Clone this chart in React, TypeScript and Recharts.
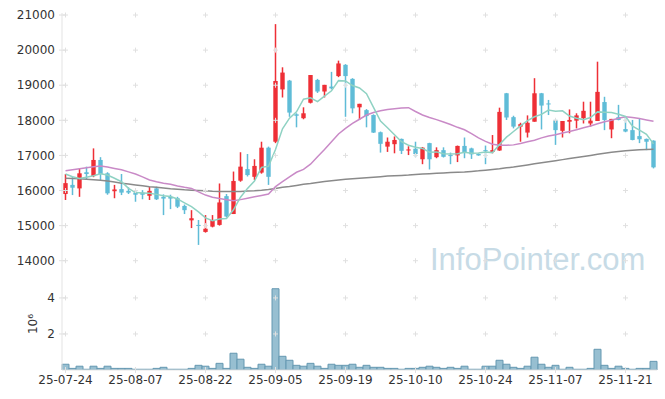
import { ComposedChart, Bar, Line, XAxis, YAxis, ReferenceDot } from 'recharts'

const dates = [
  '25-07-24', '25-07-25', '25-07-28', '25-07-29', '25-07-30', '25-07-31',
  '25-08-01', '25-08-04', '25-08-05', '25-08-06', '25-08-07', '25-08-08', '25-08-11', '25-08-12',
  '25-08-13', '25-08-14', '25-08-18', '25-08-19', '25-08-20', '25-08-21', '25-08-22', '25-08-25',
  '25-08-26', '25-08-27', '25-08-28', '25-08-29',
  '25-09-01', '25-09-02', '25-09-03', '25-09-04', '25-09-05', '25-09-08', '25-09-09', '25-09-10',
  '25-09-11', '25-09-12', '25-09-15', '25-09-16', '25-09-17', '25-09-18', '25-09-19', '25-09-22',
  '25-09-23', '25-09-24', '25-09-25', '25-09-26', '25-09-29', '25-09-30',
  '25-10-01', '25-10-02', '25-10-10', '25-10-13', '25-10-14', '25-10-15', '25-10-16', '25-10-17',
  '25-10-20', '25-10-21', '25-10-22', '25-10-23', '25-10-24', '25-10-27', '25-10-28', '25-10-29',
  '25-10-30', '25-10-31',
  '25-11-03', '25-11-04', '25-11-05', '25-11-06', '25-11-07', '25-11-10', '25-11-11', '25-11-12',
  '25-11-13', '25-11-14', '25-11-17', '25-11-18', '25-11-19', '25-11-20', '25-11-21', '25-11-24',
  '25-11-25', '25-11-26', '25-11-27',
]

const opens = [
  15900, 16160, 16060, 16520, 16410, 16870, 16490, 15980, 16040, 15990,
  15940, 15940, 15850, 16060, 15820, 15820, 15780, 15560, 15150, 15020,
  14820, 14970, 15020, 15840, 15330, 16280, 16610, 16390, 16510, 17220,
  17390, 18880, 19130, 18170, 18060, 18500, 19150, 18820, 18960, 19260,
  19580, 19180, 18370, 18290, 18150, 17660, 17250, 17320, 17470, 17140,
  17190, 16890, 17350, 16950, 17150, 17010, 17000, 17270, 17200, 17040,
  17150, 17100, 17140, 18770, 18090, 17820, 17650, 17960, 18770, 18480,
  18010, 17700, 17960, 17990, 18060, 17910, 17980, 18520, 17740, 18090,
  17750, 17720, 17550, 17470, 17420,
]
const highs = [
  16470, 16390, 16630, 16680, 17200, 16950, 16520, 16160, 16470, 16090,
  16010, 16010, 16100, 16110, 15890, 15880, 15820, 15600, 15440, 15160,
  15300, 15300, 16200, 15900, 16540, 17090, 17040, 16890, 17390, 17250,
  20740, 19510, 19150, 18200, 18370, 19290, 19180, 19010, 19380, 19700,
  19600, 19200, 18470, 18320, 18170, 17680, 17510, 17540, 17480, 17260,
  17390, 17240, 17360, 17230, 17230, 17080, 17280, 17510, 17220, 17060,
  17280, 17580, 18360, 18780, 18130, 17930, 18140, 19200, 18780, 18580,
  18020, 17980, 18310, 18200, 18530, 18530, 19670, 18670, 18040, 18440,
  18100, 18010, 18060, 17480, 17430,
]
const lows = [
  15730, 15870, 15820, 16300, 16380, 16300, 15880, 15780, 15870, 15900,
  15680, 15750, 15730, 15730, 15300, 15470, 15500, 15330, 14930, 14450,
  14800, 14950, 15000, 15230, 15330, 16250, 16400, 16300, 16480, 16160,
  17350, 18650, 18100, 17800, 18030, 18480, 18780, 18650, 18880, 19230,
  18100, 18200, 18010, 17800, 17640, 17080, 17100, 17060, 17040, 17010,
  16950, 16750, 16600, 16920, 16940, 16750, 16810, 16920, 16900, 16990,
  16750, 17060, 17130, 18010, 17770, 17390, 17510, 17960, 17740, 18150,
  17300, 17510, 17630, 17770, 17910, 17820, 17980, 17720, 17490, 18000,
  17660, 17430, 17350, 17150, 16630,
]
const closes = [
  16210, 16080, 16490, 16470, 16870, 16470, 15920, 16030, 15940, 15940,
  15880, 15880, 15990, 15750, 15770, 15770, 15540, 15440, 15210, 14990,
  14910, 15160, 15660, 15260, 16270, 16680, 16440, 16700, 17220, 16390,
  19120, 19360, 18220, 18130, 18200, 19290, 18820, 19010, 18910, 19620,
  19260, 18340, 18470, 18120, 17650, 17330, 17390, 17440, 17130, 17170,
  17040, 17220, 16890, 17150, 16960, 16980, 17270, 17080, 17030, 17000,
  17120, 17150, 18240, 18080, 17820, 17890, 17930, 18770, 18420, 18460,
  17720, 17980, 18010, 18140, 18270, 17990, 18810, 18010, 18040, 18010,
  17680, 17440, 17460, 17390, 16660,
]
const volumes = [
  320000, 90000, 210000, 40000, 210000, 90000, 210000, 90000, 90000, 90000,
  40000, 40000, 40000, 90000, 150000, 40000, 40000, 40000, 90000, 260000,
  210000, 90000, 370000, 90000, 930000, 600000, 150000, 90000, 320000, 210000,
  4510000, 760000, 540000, 260000, 210000, 370000, 210000, 90000, 320000, 260000,
  260000, 320000, 150000, 260000, 150000, 150000, 90000, 90000, 40000, 90000,
  90000, 150000, 210000, 150000, 90000, 150000, 90000, 210000, 40000, 40000,
  210000, 210000, 540000, 320000, 150000, 90000, 210000, 710000, 320000, 150000,
  260000, 40000, 150000, 40000, 40000, 90000, 1150000, 260000, 90000, 210000,
  90000, 40000, 90000, 90000, 480000,
]
const ma5 = [
  16470, 16390, 16340, 16380, 16420, 16480, 16440, 16350, 16250, 16060,
  15940, 15930, 15920, 15890, 15850, 15830, 15760, 15650, 15540, 15390,
  15220, 15140, 15190, 15200, 15450, 15810, 16060, 16270, 16660, 16690,
  17170, 17760, 18060, 18240, 18600, 18640, 18530, 18690, 18840, 19130,
  19120, 18990, 18920, 18760, 18370, 17980, 17790, 17590, 17390, 17290,
  17230, 17200, 17090, 17100, 17050, 17040, 17050, 17090, 17060, 17070,
  17100, 17080, 17310, 17520, 17680, 17840, 17990, 18100, 18170, 18290,
  18260, 18270, 18120, 18060, 18020, 18080, 18240, 18230, 18220, 18170,
  18110, 17830, 17720, 17600, 17330,
]
const ma20 = [
  16560, 16590, 16620, 16650, 16680, 16700, 16670, 16630, 16590, 16530,
  16470, 16390, 16300, 16250, 16210, 16180, 16130, 16090, 16060, 15960,
  15870, 15810, 15770, 15740, 15710, 15740, 15780, 15820, 15860, 15900,
  16110, 16250, 16390, 16520, 16600, 16750, 16960, 17170, 17390, 17610,
  17770, 17910, 18030, 18150, 18220, 18270, 18310, 18330, 18350, 18360,
  18250, 18150, 18080, 18020, 17950, 17880, 17800, 17730, 17620, 17500,
  17400, 17320, 17290, 17290, 17300, 17340, 17390, 17430, 17500, 17550,
  17590, 17640, 17680, 17730, 17790, 17840, 17900, 17960, 18000, 18060,
  18100, 18080, 18050, 18010, 17970,
]
const ma60 = [
  16350, 16345, 16335, 16320, 16305, 16290, 16270, 16240, 16210, 16185,
  16160, 16135, 16110, 16090, 16070, 16050, 16035, 16020, 16010, 16000,
  15990, 15980, 15975, 15970, 15970, 15975, 15985, 15995, 16010, 16030,
  16060, 16090, 16115, 16145, 16175, 16200, 16230, 16255, 16280, 16300,
  16320, 16335, 16350, 16365, 16380, 16395, 16410, 16420, 16430, 16440,
  16455, 16470, 16480, 16490, 16500, 16510, 16520, 16530, 16545, 16560,
  16580, 16600, 16620, 16645, 16670, 16700, 16730, 16760, 16790, 16820,
  16850, 16880, 16910, 16940, 16970, 17000, 17030, 17060, 17090, 17110,
  17130, 17145, 17160, 17170, 17175,
]

const xTicks = ['25-07-24', '25-08-07', '25-08-22', '25-09-05', '25-09-19', '25-10-10', '25-10-24', '25-11-07', '25-11-21']
const priceTicks = [14000, 15000, 16000, 17000, 18000, 19000, 20000, 21000]
const volTicks = [2000000, 4000000]

const RED = '#ee2f36'
const BLUE = '#5fbcd7'
const FRAME = '#e3e3e3'
const GRIDC = '#e0e0e0'
const TEXT = '#333'
const FONT = 'DejaVu Sans'

const data = dates.map((d, i) => ({
  date: d,
  open: opens[i],
  high: highs[i],
  low: lows[i],
  close: closes[i],
  range: [lows[i], highs[i]],
  volume: volumes[i],
  ma5: ma5[i],
  ma20: ma20[i],
  ma60: ma60[i],
}))

// wick + body, scaled from the low/high range bar recharts hands us
const Candle = (props: any) => {
  const { x, y, width, height, payload } = props
  if (!payload) return null
  const top = Math.min(y, y + height)
  const bot = Math.max(y, y + height)
  const k = (bot - top) / (payload.high - payload.low || 1)
  const yo = top + (payload.high - payload.open) * k
  const yc = top + (payload.high - payload.close) * k
  const color = payload.close >= payload.open ? RED : BLUE
  const cx = x + width / 2
  const bw = 4.4
  return (
    <g>
      <rect x={cx - 0.75} y={top} width={1.5} height={bot - top} fill={color} stroke="none" />
      <rect x={cx - bw / 2} y={Math.min(yo, yc)} width={bw} height={Math.max(Math.abs(yo - yc), 1)} fill={color} stroke="none" />
    </g>
  )
}

const GridCross = (p: any) => (
  <g>
    <line x1={p.cx - 2.5} x2={p.cx + 2.5} y1={p.cy} y2={p.cy} stroke={GRIDC} />
    <line x1={p.cx} x2={p.cx} y1={p.cy - 2.5} y2={p.cy + 2.5} stroke={GRIDC} />
  </g>
)
const HTick = (p: any) => <line x1={p.x - 3} x2={p.x + 3} y1={p.y} y2={p.y} stroke={GRIDC} />
const VTick = (p: any) => <line x1={p.x} x2={p.x} y1={p.y - 3} y2={p.y + 3} stroke={GRIDC} />

const labelTick = (fmt: (v: number) => string) => (p: any) => (
  <g>
    <line x1={p.x - 3} x2={p.x + 3} y1={p.y} y2={p.y} stroke={GRIDC} />
    <text x={p.x - 7} y={p.y} dy="0.35em" textAnchor="end" fontSize={12} fontFamily={FONT} fill={TEXT}>
      {fmt(p.payload.value)}
    </text>
  </g>
)
const DateTick = (p: any) => (
  <g>
    <line x1={p.x} x2={p.x} y1={p.y - 3} y2={p.y + 3} stroke={GRIDC} />
    <text x={p.x} y={p.y + 14} textAnchor="middle" fontSize={12} fontFamily={FONT} fill={TEXT}>
      {p.payload.value}
    </text>
  </g>
)

const PRICE_DOMAIN = [13422, 21057]
const VOL_DOMAIN = [0, 4940000]

function PriceChart() {
  return (
    <ComposedChart width={665} height={281} data={data} margin={{ top: 13, right: 8, left: 0, bottom: 0 }} barCategoryGap={0}>
      <XAxis dataKey="date" hide />
      <XAxis xAxisId="top" orientation="top" dataKey="date" ticks={xTicks} interval={0} height={0}
        tickSize={0} tickMargin={0} tickLine={false} axisLine={{ stroke: FRAME }} tick={VTick} />
      <YAxis width={62} domain={PRICE_DOMAIN} ticks={priceTicks} interval={0} allowDataOverflow
        tickSize={0} tickMargin={0} tickLine={false} axisLine={{ stroke: FRAME }} tick={labelTick((v) => String(v))} />
      <YAxis yAxisId="r" orientation="right" width={0} domain={PRICE_DOMAIN} ticks={priceTicks} interval={0} allowDataOverflow
        tickSize={0} tickMargin={0} tickLine={false} axisLine={{ stroke: FRAME }} tick={HTick} />
      {xTicks.flatMap((xv) =>
        priceTicks.map((yv) => <ReferenceDot key={xv + yv} x={xv} y={yv} r={0} shape={GridCross} />)
      )}
      <Line dataKey="ma60" stroke="#8a8a8a" strokeWidth={1.5} dot={false} activeDot={false} isAnimationActive={false} />
      <Line dataKey="ma20" stroke="#c98ac7" strokeWidth={1.5} dot={false} activeDot={false} isAnimationActive={false} />
      <Line dataKey="ma5" stroke="#8fd2c3" strokeWidth={1.5} dot={false} activeDot={false} isAnimationActive={false} />
      <Bar dataKey="range" shape={<Candle />} isAnimationActive={false} />
    </ComposedChart>
  )
}

function VolumeChart() {
  return (
    <ComposedChart width={665} height={118} data={data} margin={{ top: 0, right: 8, left: 0, bottom: 0 }} barCategoryGap={0}>
      <XAxis dataKey="date" ticks={xTicks} interval={0} height={29}
        tickSize={0} tickMargin={0} tickLine={false} axisLine={{ stroke: FRAME }} tick={DateTick} />
      <XAxis xAxisId="top" orientation="top" dataKey="date" ticks={xTicks} interval={0} height={0}
        tickSize={0} tickMargin={0} tickLine={false} axisLine={{ stroke: FRAME }} tick={VTick} />
      <YAxis width={62} domain={VOL_DOMAIN} ticks={volTicks} interval={0} allowDataOverflow
        tickSize={0} tickMargin={0} tickLine={false} axisLine={{ stroke: FRAME }} tick={labelTick((v) => String(v / 1e6))} />
      <YAxis yAxisId="r" orientation="right" width={0} domain={VOL_DOMAIN} ticks={volTicks} interval={0} allowDataOverflow
        tickSize={0} tickMargin={0} tickLine={false} axisLine={{ stroke: FRAME }} tick={HTick} />
      {xTicks.flatMap((xv) =>
        volTicks.map((yv) => <ReferenceDot key={xv + yv} x={xv} y={yv} r={0} shape={GridCross} />)
      )}
      <Bar dataKey="volume" fill="#97bfd1" stroke="#6598b1" strokeWidth={1} isAnimationActive={false} />
    </ComposedChart>
  )
}

export default function App() {
  return (
    <div style={{ position: 'absolute', left: 0, top: 0, width: 665, height: 399, background: '#fff' }}>
      <svg width={665} height={399} style={{ position: 'absolute', left: 0, top: 0 }}>
        <text x={430} y={270} fontSize={31} fontFamily="Liberation Sans" fill="#c7dbe6">InfoPointer.com</text>
      </svg>
      <div style={{ position: 'absolute', left: 0, top: 0 }}>
        <PriceChart />
      </div>
      <div style={{ position: 'absolute', left: 0, top: 281 }}>
        <VolumeChart />
      </div>
      <div
        style={{
          position: 'absolute', left: 33, top: 324, transform: 'translate(-50%, -50%) rotate(-90deg)',
          fontFamily: FONT, fontSize: 12, color: TEXT, whiteSpace: 'nowrap',
        }}
      >
        10⁶
      </div>
    </div>
  )
}
